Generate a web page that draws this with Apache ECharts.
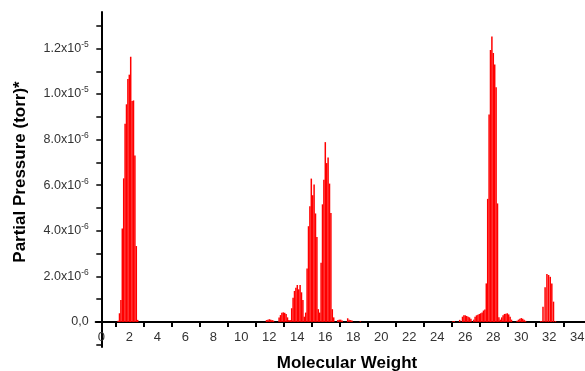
<!DOCTYPE html>
<html>
<head>
<meta charset="utf-8">
<script src="https://cdn.jsdelivr.net/npm/echarts@6/dist/echarts.min.js"></script>
<style>
  html, body { margin: 0; padding: 0; background: #fff; }
  #chart { width: 585px; height: 371px; }
</style>
</head>
<body>
<div id="chart"></div>
<script>
// partial pressures in units of 1e-6 torr
const h2Mass = [1.2, 1.3, 1.4, 1.5, 1.6, 1.7, 1.8, 1.9, 2.0, 2.1, 2.2, 2.3, 2.4, 2.5, 2.6];
const h2Press = [0.05, 0.38, 0.96, 4.1, 6.3, 8.7, 9.55, 10.66, 10.85, 11.64, 9.7, 9.72, 7.3, 3.33, 0.09];

const midMass = [11.8, 11.9, 12.0, 12.1, 12.2, 12.3,
  12.7, 12.8, 12.9, 13.0, 13.1, 13.2, 13.3, 13.4, 13.5,
  13.6, 13.7, 13.8, 13.9, 14.0, 14.1, 14.2, 14.3, 14.4, 14.5, 14.6,
  14.7, 14.8, 14.9, 15.0, 15.1, 15.2, 15.3, 15.4, 15.5, 15.6,
  15.7, 15.8, 15.9, 16.0, 16.1, 16.2, 16.3, 16.4, 16.5, 16.6,
  16.9, 17.0, 17.1, 17.2, 17.6, 17.7, 17.8, 17.9, 18.5];
const midPress = [0.08, 0.1, 0.12, 0.1, 0.08, 0.06,
  0.19, 0.3, 0.4, 0.42, 0.4, 0.35, 0.2, 0.08, 0.08,
  0.6, 1.06, 1.36, 1.5, 1.62, 1.43, 1.62, 1.3, 0.96, 0.23, 0.41,
  2.35, 4.2, 5.08, 6.29, 5.56, 6.03, 4.76, 3.73, 0.56, 0.41,
  2.6, 5.16, 6.24, 7.89, 6.97, 7.21, 6.07, 4.78, 0.56, 0.2,
  0.08, 0.1, 0.1, 0.06, 0.16, 0.1, 0.08, 0.06, 0.03];

const n2Mass = [25.1, 25.2, 25.6, 25.8, 25.9, 26.0, 26.1, 26.2, 26.3, 26.4,
  26.6, 26.7, 26.8, 26.9, 27.0, 27.1, 27.2, 27.3, 27.4,
  27.5, 27.6, 27.7, 27.8, 27.9, 28.0, 28.1, 28.2, 28.3, 28.4,
  28.5, 28.6, 28.7, 28.8, 28.9, 29.0, 29.1, 29.2, 29.3,
  29.7, 29.8, 29.9, 30.0, 30.1, 30.2, 30.3];
const n2Press = [0.03, 0.04, 0.09, 0.23, 0.29, 0.29, 0.26, 0.23, 0.2, 0.14,
  0.1, 0.23, 0.29, 0.32, 0.35, 0.38, 0.41, 0.5, 0.55,
  1.69, 5.4, 9.1, 11.93, 12.52, 11.8, 11.3, 10.3, 5.2, 0.2,
  0.1, 0.2, 0.29, 0.35, 0.36, 0.38, 0.33, 0.23, 0.1,
  0.05, 0.1, 0.14, 0.17, 0.14, 0.1, 0.05];

const o2Mass = [31.4, 31.55, 31.7, 31.83, 31.95, 32.07, 32.18, 32.3, 32.44];
const o2Press = [0.04, 0.67, 1.52, 2.1, 2.06, 1.98, 1.69, 0.89, 0.04];

const xLabelValues = [0, 2, 4, 6, 8, 10, 12, 14, 16, 18, 20, 22, 24, 26, 28, 30, 32, 34];
const xTickValues = [1, 3, 5, 7, 9, 11, 13, 15, 17, 19, 21, 23, 25, 27, 29, 31, 33];
const yLabelValues = [0, 2, 4, 6, 8, 10, 12];
const yTickValues = [-1, 0, 1, 2, 3, 4, 5, 6, 7, 8, 9, 10, 11, 12, 13];
const yTickLabels = [['0,0', ''], ['2.0x10', '-6'], ['4.0x10', '-6'], ['6.0x10', '-6'],
  ['8.0x10', '-6'], ['1.0x10', '-5'], ['1.2x10', '-5']];

const font = '"Liberation Sans", Arial, sans-serif';

function pairs(ms, ps) {
  return ms.map((m, i) => [m, ps[i]]);
}
const barData = [].concat(
  pairs(h2Mass, h2Press),
  pairs(midMass, midPress),
  pairs(n2Mass, n2Press),
  pairs(o2Mass, o2Press),
);

const chart = echarts.init(document.getElementById('chart'), null, { renderer: 'canvas' });

chart.setOption({
  animation: false,
  backgroundColor: '#fff',
  grid: { left: 95.7, right: 0, top: 12, bottom: 24, outerBoundsMode: 'none', containLabel: false },
  xAxis: {
    type: 'value',
    min: -0.4,
    max: 34.55,
    splitLine: { show: false },
    axisLine: { onZero: true, lineStyle: { color: '#000', width: 2 } },
    axisTick: {
      customValues: xTickValues,
      length: 5,
      lineStyle: { color: '#000', width: 2 },
    },
    axisLabel: {
      customValues: xLabelValues,
      margin: -16,
      fontSize: 13,
      color: '#333',
      fontFamily: font,
    },
  },
  yAxis: {
    type: 'value',
    min: -1.1,
    max: 13.6,
    splitLine: { show: false },
    axisLine: { onZero: true, lineStyle: { color: '#000', width: 2 } },
    axisTick: {
      customValues: yTickValues,
      length: 5,
      lineStyle: { color: '#000', width: 1.5 },
    },
    axisLabel: {
      customValues: yLabelValues,
      margin: 7,
      formatter: (v) => {
        const lab = yTickLabels[Math.round(v / 2)];
        return lab[1] ? `{m|${lab[0]}}{s|${lab[1]}}` : `{m|${lab[0]}}`;
      },
      rich: {
        m: { fontSize: 12.5, color: '#333', fontFamily: font },
        s: { fontSize: 8.5, color: '#333', fontFamily: font, verticalAlign: 'top', padding: [0, 0, 8, 0] },
      },
    },
  },
  graphic: [
    {
      type: 'text',
      x: 20,
      y: 172,
      rotation: Math.PI / 2,
      style: {
        text: 'Partial Pressure (torr)*',
        fontSize: 17,
        fontWeight: 'bold',
        fontFamily: font,
        fill: '#000',
        align: 'center',
        verticalAlign: 'middle',
      },
    },
    {
      type: 'text',
      x: 347,
      y: 355,
      style: {
        text: 'Molecular Weight',
        fontSize: 17,
        fontWeight: 'bold',
        fontFamily: font,
        fill: '#000',
        align: 'center',
        verticalAlign: 'top',
      },
    },
  ],
  series: [
    {
      type: 'bar',
      data: barData,
      barWidth: 1.5,
      itemStyle: { color: '#ff0000' },
    },
  ],
});
</script>
</body>
</html>
